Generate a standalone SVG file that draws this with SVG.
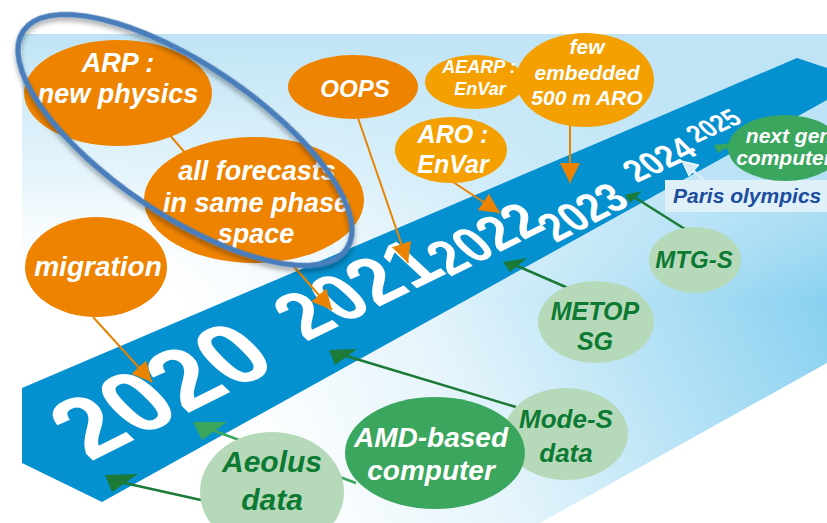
<svg xmlns="http://www.w3.org/2000/svg" width="827" height="523" viewBox="0 0 827 523">
<defs>
<linearGradient id="gBase" gradientUnits="userSpaceOnUse" x1="260" y1="470" x2="820" y2="200">
<stop offset="0" stop-color="#ffffff"/><stop offset="0.35" stop-color="#e4f4fb"/><stop offset="1" stop-color="#7fcdef"/>
</linearGradient>
<linearGradient id="gTop" gradientUnits="userSpaceOnUse" x1="0" y1="34" x2="0" y2="300">
<stop offset="0" stop-color="#bfe4f5" stop-opacity="1"/><stop offset="0.55" stop-color="#d6eef9" stop-opacity="0.6"/><stop offset="1" stop-color="#ffffff" stop-opacity="0"/>
</linearGradient>
<filter id="sh" x="-20%" y="-20%" width="140%" height="140%"><feDropShadow dx="2" dy="3" stdDeviation="2.5" flood-color="#000" flood-opacity="0.35"/></filter>
<marker id="ao" viewBox="0 0 10 10" refX="10" refY="5" markerWidth="20" markerHeight="20" markerUnits="userSpaceOnUse" orient="auto"><path d="M0,0 L10,5 L0,10 z" fill="#e98300"/></marker>
<style>
.lbl{font-family:"Liberation Sans",Arial,sans-serif;font-weight:bold;font-style:italic;text-anchor:middle}
.w{fill:#ffffff}
.g{fill:#0d7a33}
.or{fill:#ee8300}
.ol{fill:#f3a000}
.gd{fill:#3ba65d}
.gl{fill:#b6dab9}
.yr{font-family:"Liberation Sans",Arial,sans-serif;font-weight:bold;font-size:100px;fill:#ffffff}
.co{stroke:#e98300;stroke-width:2;fill:none}
.cg{stroke:#1b7a36;stroke-width:2.5;fill:none}
.cm{stroke:#3aa65c;stroke-width:2.5;fill:none}
</style>
</defs>
<g id="background">
<polygon points="22,34 827,34 827,363 540,523 22,523" fill="url(#gBase)"/>
<polygon points="22,34 827,34 827,363 540,523 22,523" fill="url(#gTop)"/>
</g>
<g id="timeline">
<polygon points="22,388 797,58 863,80 102,502 22,463" fill="#0590cf"/>
<text class="yr" transform="matrix(0.86,-0.43,0.72,0.70,90,462)">2020</text>
<text class="yr" transform="matrix(0.64,-0.31,0.58,0.54,306,342)">2021</text>
<text class="yr" transform="matrix(0.44,-0.22,0.42,0.40,450,277)">2022</text>
<text class="yr" transform="matrix(0.34,-0.175,0.33,0.33,556,243)">2023</text>
<text class="yr" transform="matrix(0.28,-0.13,0.26,0.26,637,183)">2024</text>
<text class="yr" transform="matrix(0.21,-0.095,0.20,0.20,697,143)">2025</text>
</g>
<g id="paris">
<rect x="665" y="180" width="170" height="32" fill="#dff0f9"/>
<text x="673" y="203" style="font-family:'Liberation Sans',Arial,sans-serif;font-weight:bold;font-style:italic;font-size:21px;fill:#1a4e9c">Paris olympics</text>
</g>
<g id="connectors">
<line class="co" x1="93" y1="317" x2="152" y2="382" marker-end="url(#ao)"/>
<line class="co" x1="168" y1="133" x2="186" y2="154"/>
<line class="co" x1="290" y1="262" x2="332" y2="310" marker-end="url(#ao)"/>
<line class="co" x1="358" y1="118" x2="408" y2="263" marker-end="url(#ao)"/>
<line class="co" x1="450" y1="180" x2="500" y2="213" marker-end="url(#ao)"/>
<line class="co" x1="570" y1="125" x2="570" y2="183" marker-end="url(#ao)"/>
<line class="cg" x1="210" y1="502" x2="120" y2="482"/>
<polygon points="105,475 138,474 112,492" fill="#1b7a36"/>
<line class="cm" x1="356" y1="483" x2="212" y2="430"/>
<polygon points="193,422 227,422 202,440" fill="#3aa65c"/>
<line class="cg" x1="516" y1="407" x2="343" y2="355"/>
<polygon points="329,350 357,349 335,365" fill="#1b7a36"/>
<line class="cg" x1="568" y1="288" x2="515" y2="265"/>
<polygon points="503,262 527,258 510,272" fill="#1b7a36"/>
<line class="cg" x1="688" y1="231" x2="634" y2="197"/>
<polygon points="625,195 642,191 630,203" fill="#1b7a36"/>
<line class="cm" x1="735" y1="147" x2="722" y2="148"/>
<polygon points="714,145 731,143 718,153" fill="#3aa65c"/>
<line x1="704" y1="180" x2="692" y2="170" stroke="#d5ebf7" stroke-width="3"/>
<polygon points="682,161 699,165 689,176" fill="#d5ebf7" stroke="#ffffff" stroke-width="1"/>
</g>
<g id="migration"><ellipse class="or" cx="96" cy="267" rx="71" ry="50"/><text class="lbl w" x="98" y="276" font-size="28">migration</text></g>
<g id="arp"><ellipse class="or" cx="118" cy="93" rx="94" ry="53"/><text class="lbl w" x="118" y="72" font-size="27">ARP :</text><text class="lbl w" x="118" y="103" font-size="27">new physics</text></g>
<g id="forecasts"><ellipse class="or" cx="254" cy="200" rx="110" ry="63"/><text class="lbl w" x="257" y="180" font-size="27">all forecasts</text><text class="lbl w" x="256" y="212" font-size="27">in same phase</text><text class="lbl w" x="256" y="243" font-size="27">space</text></g>
<g id="oops"><ellipse class="or" cx="353" cy="87" rx="65" ry="32"/><text class="lbl w" x="355" y="97" font-size="24">OOPS</text></g>
<g id="aearp"><ellipse class="ol" cx="475" cy="82" rx="50" ry="27"/><text class="lbl w" x="479" y="73" font-size="18">AEARP :</text><text class="lbl w" x="480" y="95" font-size="18">EnVar</text></g>
<g id="embedded"><ellipse class="ol" cx="585" cy="80" rx="69" ry="47"/><text class="lbl w" x="587" y="54" font-size="21">few</text><text class="lbl w" x="587" y="80" font-size="21">embedded</text><text class="lbl w" x="587" y="105" font-size="21">500 m ARO</text></g>
<g id="aro"><ellipse class="ol" cx="451" cy="150" rx="56" ry="33"/><text class="lbl w" x="453" y="143" font-size="25">ARO :</text><text class="lbl w" x="453" y="173" font-size="25">EnVar</text></g>
<g id="nextgen"><ellipse class="gd" cx="785" cy="148" rx="57" ry="33"/><text class="lbl w" x="789" y="143" font-size="21">next gen</text><text class="lbl w" x="784" y="165" font-size="21">computer</text></g>
<g id="mtgs"><ellipse class="gl" cx="695" cy="260" rx="46" ry="33"/><text class="lbl g" x="694" y="268" font-size="24">MTG-S</text></g>
<g id="metop"><ellipse class="gl" cx="596" cy="322" rx="58" ry="41"/><text class="lbl g" x="595" y="320" font-size="25">METOP</text><text class="lbl g" x="595" y="350" font-size="25">SG</text></g>
<g id="modes"><ellipse class="gl" cx="566" cy="434" rx="62" ry="46"/><text class="lbl g" x="566" y="428" font-size="26">Mode-S</text><text class="lbl g" x="566" y="462" font-size="26">data</text></g>
<g id="amd"><ellipse class="gd" cx="435" cy="453" rx="90" ry="56"/><text class="lbl w" x="431" y="447" font-size="28">AMD-based</text><text class="lbl w" x="431" y="480" font-size="28">computer</text></g>
<g id="aeolus"><ellipse class="gl" cx="272" cy="492" rx="72" ry="60"/><text class="lbl g" x="272" y="472" font-size="30">Aeolus</text><text class="lbl g" x="272" y="510" font-size="30">data</text></g>
<g id="highlight"><ellipse cx="185" cy="140" rx="195" ry="75" transform="rotate(34 185 140)" fill="none" stroke="#4a7ebb" stroke-width="5.5" filter="url(#sh)"/></g>
</svg>
